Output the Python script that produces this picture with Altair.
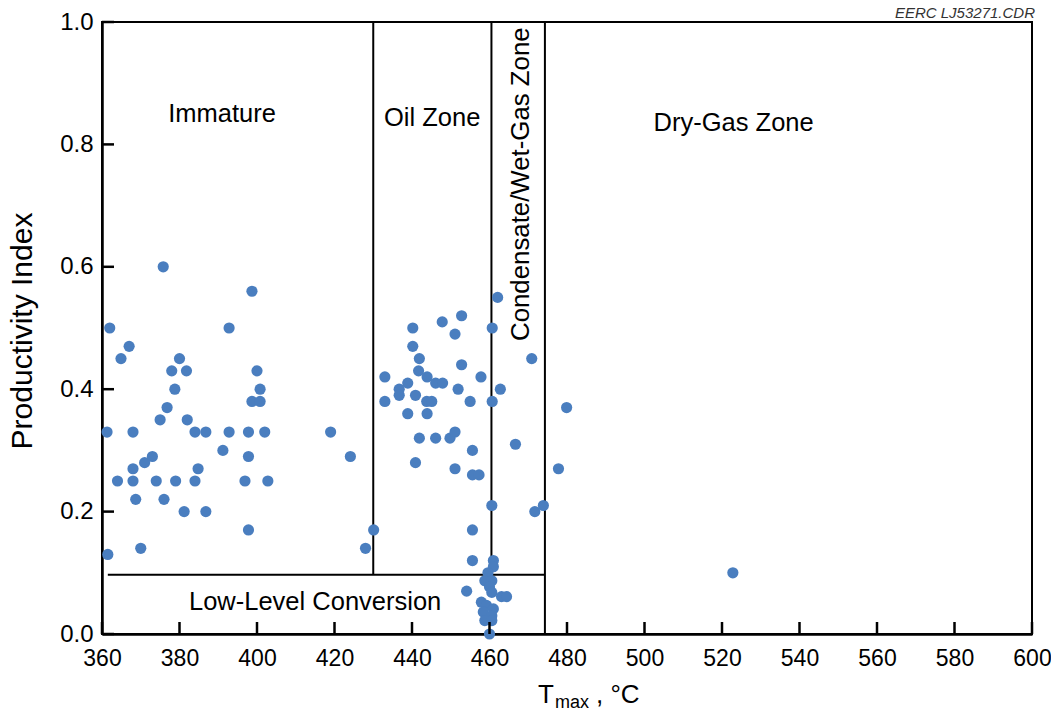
import altair as alt
import pandas as pd

# ---- data ----
tmax = [
    361.3, 361.5, 362.0, 364.0, 364.9, 367.0, 368.0, 368.0, 368.0, 368.7,
    370.0, 371.0, 373.0, 374.0, 375.0, 375.8, 376.0, 376.8, 378.0, 378.8,
    379.0, 380.0, 381.2, 381.8, 382.0, 384.0, 384.0, 384.8, 386.8, 386.8,
    391.2, 392.8, 392.8, 396.9, 397.8, 397.8, 397.8, 398.7, 398.7, 400.0,
    400.8, 400.8, 402.0, 402.8,
    419.0, 424.1, 428.0, 430.1,
    433.0, 433.0, 436.7, 436.7, 438.9, 438.9, 440.2, 440.2, 440.9, 440.9,
    441.7, 441.9, 441.9, 443.8, 443.9, 443.9, 445.1, 446.1, 446.1, 447.8,
    447.9, 449.8, 451.1, 451.1, 451.1, 451.9, 452.8, 452.8, 455.0, 455.6,
    455.6, 457.3, 457.8, 455.6, 455.6, 454.1,
    462.1, 460.7, 460.7, 462.8, 460.6, 461.0, 461.0, 459.6, 458.8, 460.6,
    460.0, 460.6, 463.1, 464.4, 457.9, 459.2, 461.0, 458.4, 460.6, 458.8,
    460.6, 460.0,
    466.7, 470.9, 471.7, 473.9, 477.8, 479.9, 522.8,
]
prod_index = [
    0.33, 0.13, 0.50, 0.25, 0.45, 0.47, 0.33, 0.27, 0.25, 0.22,
    0.14, 0.28, 0.29, 0.25, 0.35, 0.60, 0.22, 0.37, 0.43, 0.40,
    0.25, 0.45, 0.20, 0.43, 0.35, 0.33, 0.25, 0.27, 0.33, 0.20,
    0.30, 0.50, 0.33, 0.25, 0.33, 0.29, 0.17, 0.56, 0.38, 0.43,
    0.40, 0.38, 0.33, 0.25,
    0.33, 0.29, 0.14, 0.17,
    0.42, 0.38, 0.40, 0.39, 0.41, 0.36, 0.50, 0.47, 0.39, 0.28,
    0.43, 0.45, 0.32, 0.38, 0.42, 0.36, 0.38, 0.41, 0.32, 0.51,
    0.41, 0.32, 0.49, 0.33, 0.27, 0.40, 0.52, 0.44, 0.38, 0.30,
    0.26, 0.26, 0.42, 0.17, 0.12, 0.07,
    0.55, 0.50, 0.38, 0.40, 0.21, 0.12, 0.11, 0.10, 0.087, 0.087,
    0.077, 0.068, 0.061, 0.061, 0.052, 0.047, 0.041, 0.036, 0.03, 0.022,
    0.022, 0.0,
    0.31, 0.45, 0.20, 0.21, 0.27, 0.37, 0.10,
]

x_ticks = [360, 380, 400, 420, 440, 460, 480, 500, 520, 540, 560, 580, 600]
y_ticks = [0.0, 0.2, 0.4, 0.6, 0.8, 1.0]

# zone boundaries
v_line_x = [430.0, 460.5, 474.3]
v_line_y0 = [0.097, 0.097, 0.0]
v_line_y1 = [1.0, 1.0, 1.0]
h_line_x0 = [361.5]
h_line_x1 = [474.3]
h_line_y = [0.097]

zone_labels = ["Immature", "Oil Zone", "Dry-Gas Zone", "Low-Level Conversion"]
zone_label_x = [391.0, 445.2, 523.0, 415.0]
zone_label_y = [0.849, 0.843, 0.835, 0.053]

vert_label = ["Condensate/Wet-Gas Zone"]
vert_label_x = [468.1]
vert_label_y = [0.735]

FONT = "Liberation Sans"
BLUE = "#4a7ebf"

pts = pd.DataFrame({"tmax": tmax, "pi": prod_index})
xs = alt.Scale(domain=[360, 600], nice=False, zero=False)
ys = alt.Scale(domain=[0, 1], nice=False, zero=False)

base_x = alt.X("tmax:Q", scale=xs,
               axis=alt.Axis(values=x_ticks, title=None, format="d", labelFlush=False))
base_y = alt.Y("pi:Q", scale=ys,
               axis=alt.Axis(values=y_ticks, title=None, format=".1f", labelFlush=False))

points = alt.Chart(pts).mark_circle(size=125, color=BLUE, opacity=1).encode(
    x=base_x, y=base_y)

vdf = pd.DataFrame({"x": v_line_x, "y0": v_line_y0, "y1": v_line_y1})
vlines = alt.Chart(vdf).mark_rule(color="black", strokeWidth=2).encode(
    x=alt.X("x:Q", scale=xs), y=alt.Y("y0:Q", scale=ys), y2="y1:Q")

hdf = pd.DataFrame({"x0": h_line_x0, "x1": h_line_x1, "y": h_line_y})
hlines = alt.Chart(hdf).mark_rule(color="black", strokeWidth=2).encode(
    x=alt.X("x0:Q", scale=xs), x2="x1:Q", y=alt.Y("y:Q", scale=ys))

# inward-pointing ticks
xt = alt.Chart(pd.DataFrame({"xt": x_ticks})).mark_tick(
    color="black", orient="vertical", size=12, thickness=2.5, opacity=1).encode(
    x=alt.X("xt:Q", scale=xs), y=alt.value(606))
yt = alt.Chart(pd.DataFrame({"yt": y_ticks})).mark_tick(
    color="black", orient="horizontal", size=12, thickness=2.5, opacity=1).encode(
    y=alt.Y("yt:Q", scale=ys), x=alt.value(6))

zdf = pd.DataFrame({"label": zone_labels, "x": zone_label_x, "y": zone_label_y})
zones = alt.Chart(zdf).mark_text(font=FONT, fontSize=25.5, color="black",
                                 baseline="middle", align="center").encode(
    x=alt.X("x:Q", scale=xs), y=alt.Y("y:Q", scale=ys), text="label:N")

vldf = pd.DataFrame({"label": vert_label, "x": vert_label_x, "y": vert_label_y})
vlabel = alt.Chart(vldf).mark_text(font=FONT, fontSize=25.8, color="black",
                                   baseline="middle", align="center", angle=270).encode(
    x=alt.X("x:Q", scale=xs), y=alt.Y("y:Q", scale=ys), text="label:N")

one = pd.DataFrame({"a": [0]})
ytitle = alt.Chart(one).mark_text(font=FONT, fontSize=30, color="black", angle=270,
                                  baseline="middle", align="center",
                                  text="Productivity Index").encode(
    x=alt.value(-79), y=alt.value(309))
xt_T = alt.Chart(one).mark_text(font=FONT, fontSize=26, color="black", align="left",
                                baseline="alphabetic", text="T").encode(
    x=alt.value(436), y=alt.value(681))
xt_max = alt.Chart(one).mark_text(font=FONT, fontSize=18, color="black", align="left",
                                  baseline="alphabetic", text="max").encode(
    x=alt.value(453), y=alt.value(686))
xt_c = alt.Chart(one).mark_text(font=FONT, fontSize=26, color="black", align="left",
                                baseline="alphabetic", text=",  °C").encode(
    x=alt.value(494), y=alt.value(681))
credit = alt.Chart(one).mark_text(font=FONT, fontSize=15, fontStyle="italic",
                                  color="#333333", align="right", baseline="alphabetic",
                                  text="EERC LJ53271.CDR").encode(
    x=alt.value(933), y=alt.value(-4))

chart = alt.layer(
    vlines, hlines, points, xt, yt, zones, vlabel, ytitle, xt_T, xt_max, xt_c, credit
).properties(
    width=930, height=612,
    autosize=alt.AutoSizeParams(type="none"),
    padding={"left": 102, "top": 22, "right": 19, "bottom": 79},
    background="white",
).configure_axis(
    ticks=False, grid=False, domainColor="black", domainWidth=2.5,
    labelFont=FONT, labelColor="black",
).configure_axisX(labelPadding=13, labelFontSize=23).configure_axisY(
    labelPadding=9, labelFontSize=24).configure_view(
    stroke="black", strokeWidth=2
)

chart.save("out.html", embed_options={"renderer": "svg", "actions": False})
